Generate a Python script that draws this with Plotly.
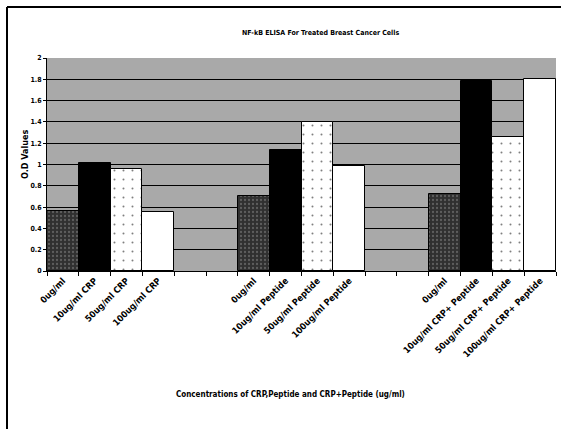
import plotly.graph_objects as go

# Categories for each treatment group (bars left to right)
crp_labels = ["0ug/ml", "10ug/ml CRP", "50ug/ml CRP", "100ug/ml CRP"]
peptide_labels = ["0ug/ml", "10ug/ml Peptide", "50ug/ml Peptide", "100ug/ml Peptide"]
combo_labels = ["0ug/ml", "10ug/ml CRP+ Peptide", "50ug/ml CRP+ Peptide", "100ug/ml CRP+ Peptide"]

# O.D values per group
crp_values = [0.56, 1.01, 0.96, 0.55]
peptide_values = [0.70, 1.14, 1.40, 0.99]
combo_values = [0.72, 1.78, 1.26, 1.80]

y_ticks = [0, 0.2, 0.4, 0.6, 0.8, 1, 1.2, 1.4, 1.6, 1.8, 2]

groups = [
    (crp_labels, crp_values),
    (peptide_labels, peptide_values),
    (combo_labels, combo_values),
]

GAP = 2  # empty slots between groups
FONT = "Liberation Sans Narrow, DejaVu Sans Condensed, Liberation Sans, Arial"

# Slot positions for each bar
positions, labels, values = [], [], []
slot = 0
for labs, vals in groups:
    for lab, val in zip(labs, vals):
        positions.append(slot)
        labels.append(lab)
        values.append(val)
        slot += 1
    slot += GAP
n_slots = slot - GAP

# Styling per dose position within a group
styles = [
    dict(color="#303030", pattern=dict(shape=".", fgcolor="#8c8c8c", size=4, solidity=0.25)),
    dict(color="#000000", pattern=dict(shape="")),
    dict(color="#ffffff", pattern=dict(shape=".", fgcolor="#000000", size=9, solidity=0.04)),
    dict(color="#ffffff", pattern=dict(shape="")),
]

fig = go.Figure()
for k, st in enumerate(styles):
    xs = [p for i, p in enumerate(positions) if i % 4 == k]
    ys = [v for i, v in enumerate(values) if i % 4 == k]
    fig.add_trace(go.Bar(
        x=xs, y=ys, width=1,
        marker=dict(color=st["color"], pattern=st["pattern"],
                    line=dict(color="#000000", width=1)),
        showlegend=False, hoverinfo="y",
    ))

boundaries = [b - 0.5 for b in range(n_slots + 1)]

fig.update_layout(
    width=561, height=429,
    margin=dict(l=47, r=5, t=58, b=158),
    paper_bgcolor="#ffffff",
    plot_bgcolor="#a9a9a9",
    barmode="overlay",
    bargap=0,
    font=dict(family=FONT, color="#000000"),
    xaxis=dict(
        range=[-0.5, n_slots - 0.5],
        tickmode="array", tickvals=positions, ticktext=labels,
        tickangle=-45, ticks="",
        tickfont=dict(size=9, weight="bold", family=FONT),
        showgrid=False, zeroline=False,
        showline=True, linecolor="#000000", linewidth=1,
        minor=dict(tickmode="array", tickvals=boundaries, ticks="outside",
                   ticklen=4, tickcolor="#000000", tickwidth=1, showgrid=False),
    ),
    yaxis=dict(
        range=[0, 2],
        tickmode="array", tickvals=y_ticks,
        ticks="outside", ticklen=3, tickcolor="#000000",
        tickfont=dict(size=7, weight="bold", family=FONT),
        showgrid=True, gridcolor="#000000", gridwidth=1,
        zeroline=False,
        showline=True, linecolor="#000000", linewidth=1,
    ),
    annotations=[
        dict(text="NF-kB ELISA For Treated Breast Cancer Cells",
             xref="paper", yref="paper", x=(320 - 47) / 509, y=(271 - 33) / 213,
             showarrow=False, xanchor="center", yanchor="middle",
             font=dict(size=7, weight="bold", family=FONT)),
        dict(text="O.D Values",
             xref="paper", yref="paper", x=(25 - 47) / 509, y=(271 - 154) / 213,
             showarrow=False, xanchor="center", yanchor="middle", textangle=-90,
             font=dict(size=9, weight="bold", family=FONT)),
        dict(text="Concentrations of CRP,Peptide and CRP+Peptide (ug/ml)",
             xref="paper", yref="paper", x=(290 - 47) / 509, y=(271 - 394) / 213,
             showarrow=False, xanchor="center", yanchor="middle",
             font=dict(size=8, weight="bold", family=FONT)),
    ],
    shapes=[
        # outer frame lines (left and top)
        dict(type="line", xref="paper", yref="paper",
             x0=(7 - 47) / 509, x1=(7 - 47) / 509,
             y0=(271 - 7) / 213, y1=(271 - 429) / 213,
             line=dict(color="#000000", width=2)),
        dict(type="line", xref="paper", yref="paper",
             x0=(7 - 47) / 509, x1=(561 - 47) / 509,
             y0=(271 - 7) / 213, y1=(271 - 7) / 213,
             line=dict(color="#000000", width=2)),
    ],
)

fig.write_html("out.html")
